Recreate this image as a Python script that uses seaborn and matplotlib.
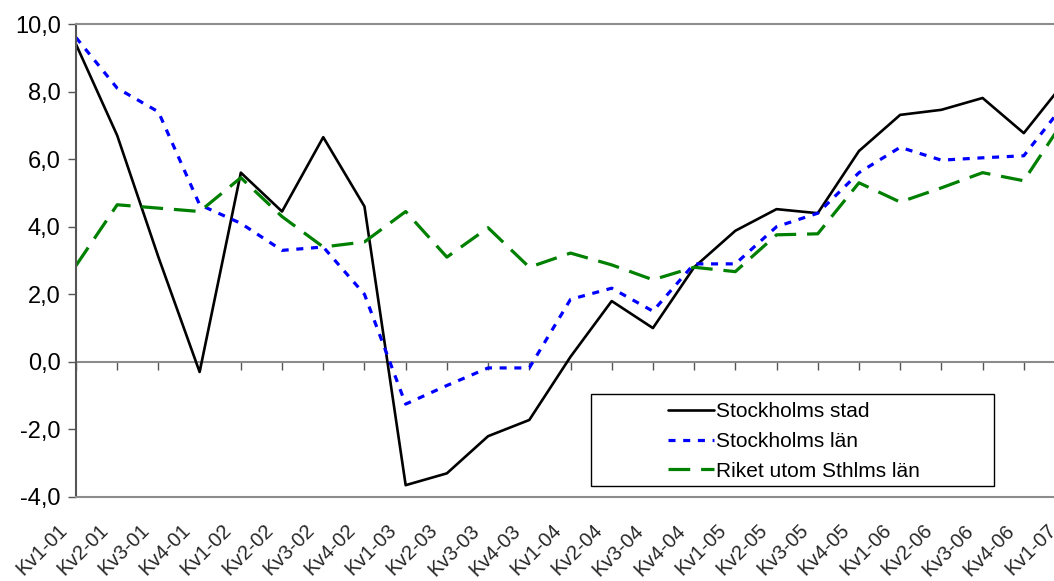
import numpy as np
import pandas as pd
import matplotlib
matplotlib.use('Agg')
import matplotlib.pyplot as plt
import matplotlib.ticker as mticker
import matplotlib.transforms as mtransforms
from matplotlib.patches import Rectangle
import seaborn as sns

# Quarters Kv1-01 .. Kv1-07
quarters = [f'Kv{q}-{y:02d}' for y in range(1, 7) for q in range(1, 5)] + ['Kv1-07']

stad = [9.4, 6.7, 3.1, -0.3, 5.6, 4.45, 6.65, 4.6, -3.65, -3.3, -2.2, -1.72,
        0.15, 1.8, 1.0, 2.8, 3.88, 4.52, 4.4, 6.24, 7.31, 7.46, 7.81, 6.77, 8.3]
lan = [9.6, 8.1, 7.4, 4.65, 4.1, 3.3, 3.4, 2.0, -1.25, -0.7, -0.18, -0.18,
       1.85, 2.18, 1.5, 2.9, 2.9, 4.0, 4.4, 5.6, 6.35, 5.97, 6.04, 6.1, 7.65]
riket = [2.85, 4.65, 4.55, 4.45, 5.45, 4.3, 3.4, 3.55, 4.45, 3.1, 3.97, 2.8,
         3.22, 2.87, 2.43, 2.8, 2.67, 3.76, 3.79, 5.3, 4.73, 5.15, 5.6, 5.36, 7.2]

series_names = ['Stockholms stad', 'Stockholms län', 'Riket utom Sthlms län']
series_colors = ['#000000', '#0000FF', '#008000']

sns.set_theme(style='white')
plt.rcParams['font.family'] = ['Liberation Sans', 'DejaVu Sans']

fig = plt.figure(figsize=(10.54, 5.81), dpi=100)
# plot area runs past the right edge (the original is cropped there)
ax = fig.add_axes([76 / 1054, 84 / 581, (1065 - 76) / 1054, 473 / 581])

x = np.arange(len(quarters))
df = pd.DataFrame({'x': x, 'stad': stad, 'lan': lan, 'riket': riket})

sns.lineplot(data=df, x='x', y='stad', ax=ax, color=series_colors[0],
             lw=1.9, label=series_names[0])
sns.lineplot(data=df, x='x', y='lan', ax=ax, color=series_colors[1],
             lw=2.3, linestyle=(0, (2.2, 2.4)), label=series_names[1])
sns.lineplot(data=df, x='x', y='riket', ax=ax, color=series_colors[2],
             lw=2.3, linestyle=(0, (6.8, 3.4)), label=series_names[2])

ax.set_xlim(0, len(quarters) - 1)
ax.set_ylim(-4, 10)
ax.set_xlabel('')
ax.set_ylabel('')

# y axis
ax.set_yticks(np.arange(-4, 11, 2))
ax.yaxis.set_major_formatter(mticker.FuncFormatter(lambda v, p: f'{v:.1f}'.replace('.', ',')))
ax.tick_params(axis='y', direction='out', length=6, width=1, color='#555555',
               labelsize=17, pad=5, left=True, labelcolor='black')

# x labels at the bottom
ax.set_xticks(x)
ax.set_xticklabels(quarters, rotation=45, ha='right', va='center',
                   rotation_mode='anchor', fontsize=14.5)
ax.tick_params(axis='x', length=0, pad=22)
offset = mtransforms.ScaledTranslation(-12 / 100, 0, fig.dpi_scale_trans)
for lbl in ax.get_xticklabels():
    lbl.set_transform(lbl.get_transform() + offset)

for side in ['top', 'bottom']:
    ax.spines[side].set_color('#8c8c8c')
    ax.spines[side].set_linewidth(1.5)
ax.spines['left'].set_color('#555555')
ax.spines['left'].set_linewidth(1.5)
ax.spines['right'].set_visible(False)

# category axis crossing at zero
sec = ax.secondary_xaxis(4 / 14)
sec.set_xticks(x)
sec.tick_params(axis='x', direction='out', length=6, width=1, color='#555555',
                labelbottom=False, labeltop=False)
sec.spines['bottom'].set_color('#8c8c8c')
sec.spines['bottom'].set_linewidth(1.5)

# legend box (wide Excel-style frame) and entries
ax.add_patch(Rectangle(((591 - 76) / 989, (497 - 486) / 473), (994 - 591) / 989, (486 - 394) / 473,
                       transform=ax.transAxes, facecolor='white', edgecolor='black',
                       lw=1.0, zorder=4))
leg = ax.legend(loc='upper left', bbox_to_anchor=((668 - 76) / 989, (497 - 402) / 473),
                fontsize=15, frameon=False, handlelength=2.2, handletextpad=0.12,
                labelspacing=0.52, borderpad=0, borderaxespad=0)
leg.set_zorder(5)
for t in leg.get_texts():
    t.set_color('black')

fig.savefig('out.png', dpi=100)
